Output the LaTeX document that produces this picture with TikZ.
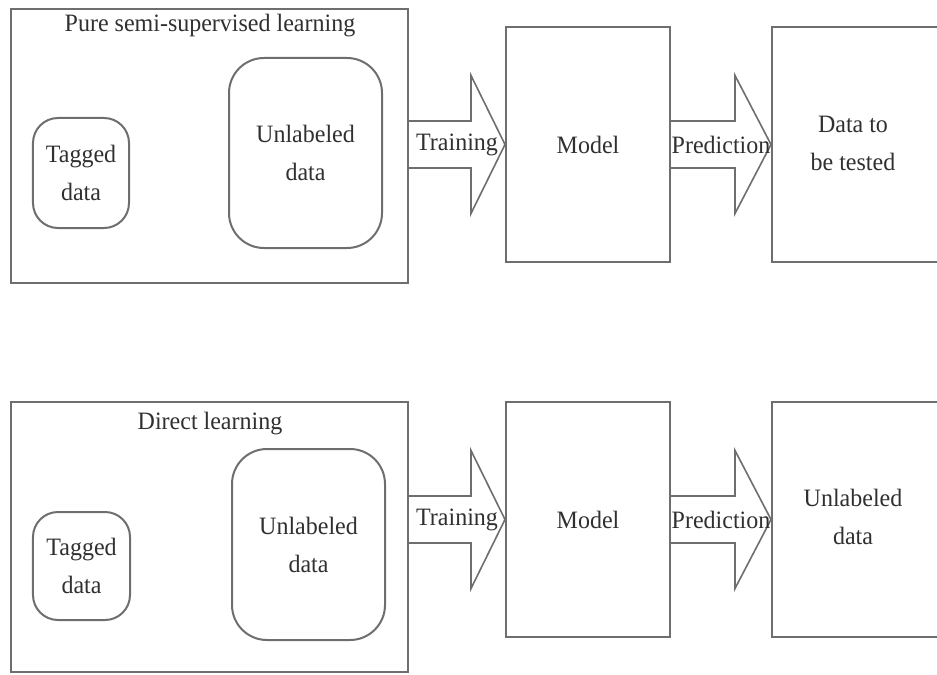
\documentclass[tikz,border=0pt]{standalone}
\usepackage{fontspec}
\setmainfont[FakeStretch=0.96]{Liberation Serif}
\usetikzlibrary{calc}
\definecolor{linecol}{HTML}{6E6E6E}
\definecolor{textcol}{HTML}{303030}
\tikzset{
  every node/.style={text=textcol, font=\fontsize{25bp}{38bp}\selectfont},
  outerbox/.style={draw=linecol, line width=2bp, rectangle, inner sep=0pt},
  databox/.style={draw=linecol, line width=2bp, rectangle, rounded corners=#1, inner sep=0pt, align=center},
  plainbox/.style={draw=linecol, line width=2bp, rectangle, inner sep=0pt, align=center},
  barrow/.style={draw=linecol, line width=1.6bp, line join=miter},
  txt/.style={inner sep=0pt, align=center}
}
\newcommand\blockarrow[3]{% start, tip, head length
  \draw[barrow] ($(#1)+(0,-23.5)$) -- ($(#2)+(-#3,-23.5)$) -- ($(#2)+(-#3,-69)$) -- (#2)
    -- ($(#2)+(-#3,69)$) -- ($(#2)+(-#3,23.5)$) -- ($(#1)+(0,23.5)$);}
\begin{document}
\begin{tikzpicture}[x=1bp,y=-1bp]
\useasboundingbox (0,0) rectangle (937,675);
\clip (0,0) rectangle (937,675);
% ---------- top row ----------
\node[outerbox, minimum width=397bp, minimum height=274bp] (top) at (209.5,146) {};
\node[txt] (toptitle) at (210,26) {Pure semi-supervised learning};
\node[databox=25bp, minimum width=96bp, minimum height=110bp] (tag1) at (81,173) {Tagged\\data};
\node[databox=35bp, minimum width=153bp, minimum height=190bp] (unl1) at (305.5,153) {Unlabeled\\data};
\node[plainbox, minimum width=164bp, minimum height=235bp] (model1) at (588,144.5) {Model};
\node[plainbox, minimum width=190bp, minimum height=235bp] (test1) at (867,144.5) {};
\node[txt] (test1t) at (853,143) {Data to\\be tested};
\coordinate (ta1) at (top.east |- model1.west);
\blockarrow{ta1}{model1.west}{34}
\node[txt] (train1) at ($(ta1)!0.5!(model1.west)$) {Training};
\blockarrow{model1.east}{test1.west}{36}
\node[txt] (pred1) at ($(model1.east)!0.5!(test1.west)$) {Prediction};
% ---------- bottom row ----------
\node[outerbox, minimum width=397bp, minimum height=270bp] (bot) at (209.5,537) {};
\node[txt] (bottitle) at (210,424) {Direct learning};
\node[databox=25bp, minimum width=97bp, minimum height=108bp] (tag2) at (81.5,566) {Tagged\\data};
\node[databox=35bp, minimum width=153bp, minimum height=191bp] (unl2) at (308.5,544.5) {Unlabeled\\data};
\node[plainbox, minimum width=164bp, minimum height=235bp] (model2) at (588,519.5) {Model};
\node[plainbox, minimum width=190bp, minimum height=235bp] (test2) at (867,519.5) {};
\node[txt] (test2t) at (853,517) {Unlabeled\\data};
\coordinate (ta2) at (bot.east |- model2.west);
\blockarrow{ta2}{model2.west}{34}
\node[txt] (train2) at ($(ta2)!0.5!(model2.west)$) {Training};
\blockarrow{model2.east}{test2.west}{36}
\node[txt] (pred2) at ($(model2.east)!0.5!(test2.west)$) {Prediction};
\end{tikzpicture}
\end{document}
